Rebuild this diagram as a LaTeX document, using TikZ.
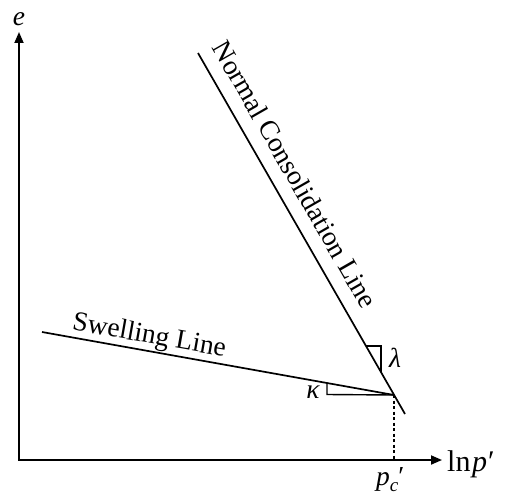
\documentclass[tikz,border=0pt]{standalone}
\usepackage{fontspec}
\setmainfont{Liberation Serif}
\usetikzlibrary{arrows.meta}
\begin{document}
\begin{tikzpicture}[x=1pt,y=-1pt,
  lbl/.style={font=\fontsize{27.5}{33}\selectfont, inner sep=0pt},
  axes/.style={line width=1.8pt, line join=miter,
    {Triangle[length=11pt,width=9pt]}-{Triangle[length=11pt,width=9pt]}},
  curve/.style={line width=1.7pt},
  tri/.style={line width=1.4pt},
  guide/.style={line width=1.6pt, dash pattern=on 3pt off 2.5pt}]
\useasboundingbox (0,0) rectangle (505,495);
% key points
\coordinate (O) at (19,460);
\coordinate (Ytop) at (19,32);
\coordinate (Xend) at (442,460);
\coordinate (A) at (198,53);
\coordinate (B) at (405,414);
\coordinate (P) at (394,395);
\coordinate (S) at (42,332);
\coordinate (Pc) at (394,460);
\coordinate (L1) at (366,346);
\coordinate (L2) at (381,346);
\coordinate (L3) at (381,372);
\coordinate (K1) at (327,383);
\coordinate (K2) at (327,394.5);
% axes
\draw[axes] (Ytop) -- (O) -- (Xend);
% lines
\draw[curve] (A) -- (B);
\draw[curve] (S) -- (P);
\draw[guide] (P) -- (Pc);
% slope triangles
\draw[tri] (L1) -- (L2) -- (L3);
\draw[tri] (K1) -- (K2) -- (P);
% labels
\node[lbl] (le) at (19,19) {\textit{e}};
\node[lbl, font=\fontsize{30}{36}\selectfont, anchor=base west] (lx) at (447,471) {ln\kern1.5pt\textit{p}\kern1pt′};
\node[lbl, anchor=base west] (lpc) at (376,485) {\textit{p}\raisebox{-0.22em}{\fontsize{19}{22}\selectfont\textit{c}}′};
\node[lbl] (llam) at (395,357.5) {\textit{λ}};
\node[lbl] (lkap) at (313,392) {\textit{κ}};
\node[lbl, anchor=base, rotate=-10.1] (lsw) at (148,343) {Swelling Line};
\node[lbl, anchor=base, rotate=-60.2] (lncl) at (287,179) {Normal Consolidation Line};
\end{tikzpicture}
\end{document}
